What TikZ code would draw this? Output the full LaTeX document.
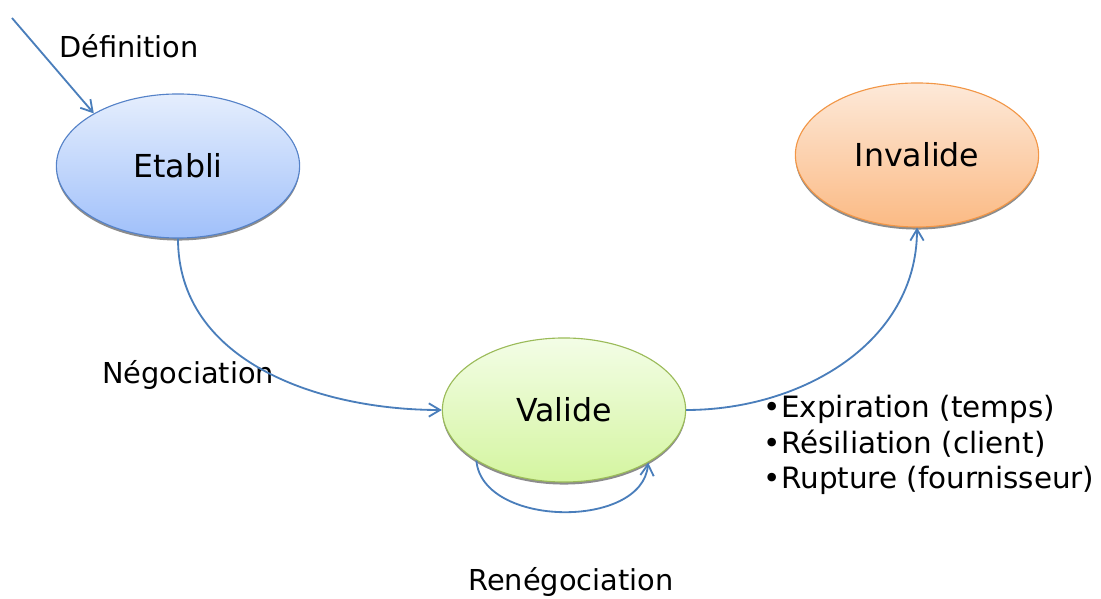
\documentclass[tikz,border=0pt]{standalone}
\usepackage{fontspec}
\setmainfont{DejaVu Sans}
\usetikzlibrary{arrows.meta,shapes.geometric,shadows}
\definecolor{fleche}{RGB}{74,126,187}
\definecolor{bleuhaut}{RGB}{229,238,253}
\definecolor{bleubas}{RGB}{160,192,250}
\definecolor{bleubord}{RGB}{85,130,200}
\definecolor{verthaut}{RGB}{243,253,230}
\definecolor{vertbas}{RGB}{212,245,160}
\definecolor{vertbord}{RGB}{155,187,89}
\definecolor{orangehaut}{RGB}{253,233,217}
\definecolor{orangebas}{RGB}{251,186,132}
\definecolor{orangebord}{RGB}{242,150,70}
\tikzset{
    every picture/.style={
        x=0.025cm,y=0.025cm,line width=1.3pt,>={Straight Barb[length=8pt,width=9.5pt]},
        etat/.style={ellipse,draw,line width=.8pt,minimum width=6.08cm,minimum height=3.6cm,
            font=\fontsize{22.5}{27}\selectfont,
            drop shadow={shadow xshift=0pt,shadow yshift=-1.8pt,opacity=.75,fill=black!60}},
        etabli/.style={draw=bleubord,top color=bleuhaut,bottom color=bleubas},
        valide/.style={draw=vertbord,top color=verthaut,bottom color=vertbas},
        invalide/.style={draw=orangebord,top color=orangehaut,bottom color=orangebas},
        etiquette/.style={font=\fontsize{20.5}{25.3}\selectfont}
    }
}
\begin{document}
\begin{tikzpicture}
    \useasboundingbox (0,0) rectangle (1101,599);
    \node[etat,etabli]   (etabli)   at (178,433) {Etabli};
    \node[etat,valide]   (valide)   at (564,189) {Valide};
    \node[etat,invalide] (invalide) at (917,444) {Invalide};
    \coordinate (debut) at (12,581);
    \node[etiquette] (def)   at (129,553) {Définition};
    \node[etiquette] (nego)  at (188,224) {Négociation};
    \node[etiquette] (reneg) at (571,17)  {Renégociation};
    \node[etiquette,anchor=west,align=left,inner sep=0pt,font=\fontsize{20.9}{25.3}\selectfont]
        (causes) at (763,154)
        {•Expiration (temps)\\•Résiliation (client)\\•Rupture (fournisseur)};
    \path[->,color=fleche]
        (debut)        edge                 (etabli.148)
        (etabli.south) edge [out=-90,in=180] (valide.west)
        (valide.east)  edge [out=0,in=-90]   (invalide.south)
        (valide.210)   edge [out=-85,in=-95] (valide.328)
        ;
\end{tikzpicture}
\end{document}
